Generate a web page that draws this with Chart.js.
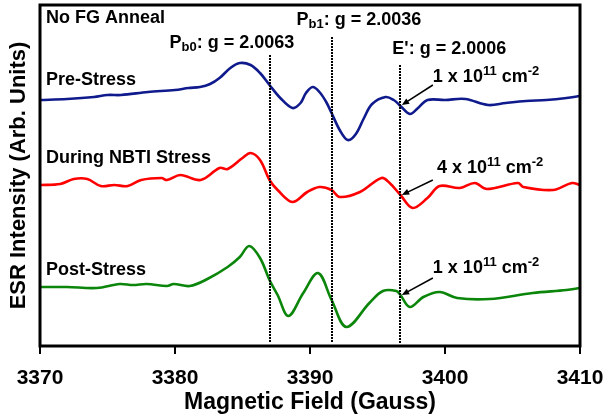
<!DOCTYPE html>
<html>
<head>
<meta charset="utf-8">
<script src="https://cdn.jsdelivr.net/npm/chart.js@4.4.1/dist/chart.umd.min.js"></script>
<style>
  html, body { margin: 0; padding: 0; background: #fff; }
  #wrap { width: 605px; height: 417px; }
</style>
</head>
<body>
<div id="wrap"><canvas id="esrChart"></canvas></div>
<script>
// field values (Gauss) and intensities (arb. units)
const preField = [3370, 3372, 3374, 3375, 3376, 3378, 3380, 3381, 3381.85, 3382.6, 3383.3, 3384.1, 3384.8, 3385.6, 3386.3, 3387.0, 3387.8, 3388.7, 3389.3, 3389.7, 3390.2, 3390.7, 3391.2, 3391.6, 3392.2, 3392.8, 3393.4, 3394.0, 3394.6, 3395.6, 3396.2, 3396.7, 3397.4, 3398.0, 3398.7, 3400, 3401.5, 3403.2, 3404.5, 3406, 3407.5, 3409, 3410];
const preInt = [246, 247, 249, 251, 251, 254, 256, 258, 259, 262, 268, 278, 283, 281, 273, 261, 248, 238, 243, 253, 259, 254, 244, 233, 216, 206, 212, 228, 242, 249, 246, 240, 232, 238, 246, 246, 247, 241, 243, 245, 246, 248, 250];

const duringField = [3370, 3371.5, 3372.5, 3373.5, 3374.5, 3375.5, 3376.5, 3377.5, 3379, 3379.4, 3380.4, 3381.9, 3383.3, 3383.9, 3385.0, 3385.6, 3386.3, 3387, 3387.6, 3388.7, 3389.8, 3390.7, 3391.6, 3392.2, 3393.7, 3395.3, 3395.9, 3396.7, 3397.6, 3398.7, 3399.6, 3401.1, 3402.2, 3403.1, 3405.4, 3405.8, 3408, 3409.4, 3410];
const duringInt = [161, 162, 167, 167, 160, 161, 160, 166, 168, 166, 171, 166, 178, 177, 188, 193, 186, 166, 156, 144, 154, 159, 156, 149, 154, 168, 163, 151, 138, 148, 160, 158, 163, 157, 163, 159, 156, 163, 161];

const postField = [3370, 3372, 3374.2, 3375.9, 3376.9, 3377.9, 3379.4, 3379.9, 3381.1, 3382.4, 3383.9, 3384.8, 3385.5, 3386.3, 3387, 3387.6, 3388.4, 3389.5, 3390.6, 3391.6, 3392.7, 3394.4, 3395.4, 3396.4, 3396.7, 3397.4, 3398.4, 3399.6, 3400.9, 3403.3, 3406.5, 3409, 3410];
const postInt = [59, 59, 58, 62, 61, 62, 60, 62, 60, 67, 79, 89, 100, 88, 66, 51, 30, 53, 73, 46, 19, 43, 55, 55, 51, 39, 49, 54, 48, 47, 53, 56, 58];

const xTicks = [3370, 3380, 3390, 3400, 3410];

// marker lines: field position and top of the dotted line
const markerField = [3387.0, 3391.6, 3396.7];
const markerTop = [291, 309, 281];

const FONT = '"Liberation Sans", Arial, sans-serif';

function toPoints(xs, ys) {
  return xs.map((x, i) => ({ x: x, y: ys[i] }));
}

// text labels: [x (G), y (arb.), pieces]  piece = [text, 'n' | 'sub' | 'sup']
const labels = [
  [3370.45, 328, [['No FG Anneal', 'n']]],
  [3379.6, 303, [['P', 'n'], ['b0', 'sub'], [': g = 2.0063', 'n']]],
  [3389.0, 326, [['P', 'n'], ['b1', 'sub'], [': g = 2.0036', 'n']]],
  [3396.1, 297, [["E': g = 2.0006", 'n']]],
  [3399.1, 269, [['1 x 10', 'n'], ['11', 'sup'], [' cm', 'n'], ['-2', 'sup']]],
  [3370.45, 266, [['Pre-Stress', 'n']]],
  [3370.45, 188, [['During NBTI Stress', 'n']]],
  [3399.4, 178, [['4 x 10', 'n'], ['11', 'sup'], [' cm', 'n'], ['-2', 'sup']]],
  [3370.45, 76, [['Post-Stress', 'n']]],
  [3399.1, 78, [['1 x 10', 'n'], ['11', 'sup'], [' cm', 'n'], ['-2', 'sup']]]
];

// arrows: from (x,y) to tip (x,y)
const arrows = [
  [3399.1, 261, 3396.8, 241],
  [3399.1, 166, 3396.8, 151],
  [3399.1, 68, 3396.8, 51]
];

const overlay = {
  id: 'overlay',
  afterDatasetsDraw(chart) {
    const ctx = chart.ctx;
    const xs = chart.scales.x, ys = chart.scales.y;
    const a = chart.chartArea;

    // dotted g-value lines
    ctx.save();
    ctx.strokeStyle = '#000';
    ctx.lineWidth = 2;
    ctx.setLineDash([2, 1]);
    markerField.forEach((f, i) => {
      const px = Math.round(xs.getPixelForValue(f));
      ctx.beginPath();
      ctx.moveTo(px, Math.round(ys.getPixelForValue(markerTop[i])));
      ctx.lineTo(px, Math.round(a.bottom) - 3);
      ctx.stroke();
    });
    ctx.restore();

    // arrows
    ctx.save();
    ctx.strokeStyle = '#000';
    ctx.fillStyle = '#000';
    ctx.lineWidth = 1.5;
    arrows.forEach(ar => {
      const x0 = xs.getPixelForValue(ar[0]), y0 = ys.getPixelForValue(ar[1]);
      const x1 = xs.getPixelForValue(ar[2]), y1 = ys.getPixelForValue(ar[3]);
      const ang = Math.atan2(y1 - y0, x1 - x0);
      const hl = 8;
      ctx.beginPath();
      ctx.moveTo(x0, y0);
      ctx.lineTo(x1 - Math.cos(ang) * hl * 0.6, y1 - Math.sin(ang) * hl * 0.6);
      ctx.stroke();
      ctx.beginPath();
      ctx.moveTo(x1, y1);
      ctx.lineTo(x1 - hl * Math.cos(ang - 0.4), y1 - hl * Math.sin(ang - 0.4));
      ctx.lineTo(x1 - hl * Math.cos(ang + 0.4), y1 - hl * Math.sin(ang + 0.4));
      ctx.closePath();
      ctx.fill();
    });
    ctx.restore();

    // labels
    ctx.save();
    ctx.fillStyle = '#000';
    ctx.textBaseline = 'middle';
    ctx.textAlign = 'left';
    labels.forEach(lb => {
      let px = xs.getPixelForValue(lb[0]);
      const py = ys.getPixelForValue(lb[1]);
      lb[2].forEach(p => {
        let dy = 0;
        if (p[1] === 'n') ctx.font = 'bold 18px ' + FONT;
        else {
          ctx.font = 'bold 13px ' + FONT;
          dy = p[1] === 'sub' ? 4 : -6;
        }
        ctx.fillText(p[0], px, py + dy);
        px += ctx.measureText(p[0]).width;
      });
    });
    ctx.restore();

    // frame
    ctx.save();
    ctx.strokeStyle = '#000';
    ctx.lineWidth = 3;
    ctx.strokeRect(a.left, a.top, a.right - a.left, a.bottom - a.top);
    ctx.restore();
  }
};

new Chart(document.getElementById('esrChart'), {
  type: 'line',
  data: {
    datasets: [
      { label: 'Pre-Stress', data: toPoints(preField, preInt), borderColor: '#0f1a8c', borderWidth: 2.6 },
      { label: 'During NBTI Stress', data: toPoints(duringField, duringInt), borderColor: '#ff0000', borderWidth: 2.6 },
      { label: 'Post-Stress', data: toPoints(postField, postInt), borderColor: '#0b860b', borderWidth: 2.6 }
    ]
  },
  options: {
    responsive: true,
    maintainAspectRatio: false,
    animation: false,
    layout: { padding: { top: 5, right: 25, left: 0, bottom: 0 } },
    elements: {
      point: { radius: 0 },
      line: { tension: 0.35, fill: false }
    },
    plugins: { legend: { display: false }, tooltip: { enabled: false } },
    scales: {
      x: {
        type: 'linear',
        min: 3370,
        max: 3410,
        afterBuildTicks: s => { s.ticks = xTicks.map(v => ({ value: v })); },
        afterFit: s => { s.height = 71; s.paddingLeft = 0; s.paddingRight = 0; },
        ticks: { color: '#000', font: { family: FONT, size: 21, weight: 'bold' }, padding: 12, maxRotation: 0, callback: v => String(v) },
        grid: { drawOnChartArea: false, drawTicks: true, tickLength: 8, color: '#000', lineWidth: 2 },
        border: { display: false },
        title: { display: true, text: 'Magnetic Field (Gauss)', color: '#000', font: { family: FONT, size: 23, weight: 'bold' }, padding: { top: 0, bottom: 1 } }
      },
      y: {
        min: 0,
        max: 341,
        afterFit: s => { s.width = 40; },
        ticks: { display: false },
        grid: { display: false },
        border: { display: false },
        title: { display: true, text: 'ESR Intensity (Arb. Units)', color: '#000', font: { family: FONT, size: 22, weight: 'bold' }, padding: { top: 6, bottom: 0 } }
      }
    }
  },
  plugins: [overlay]
});
</script>
</body>
</html>
